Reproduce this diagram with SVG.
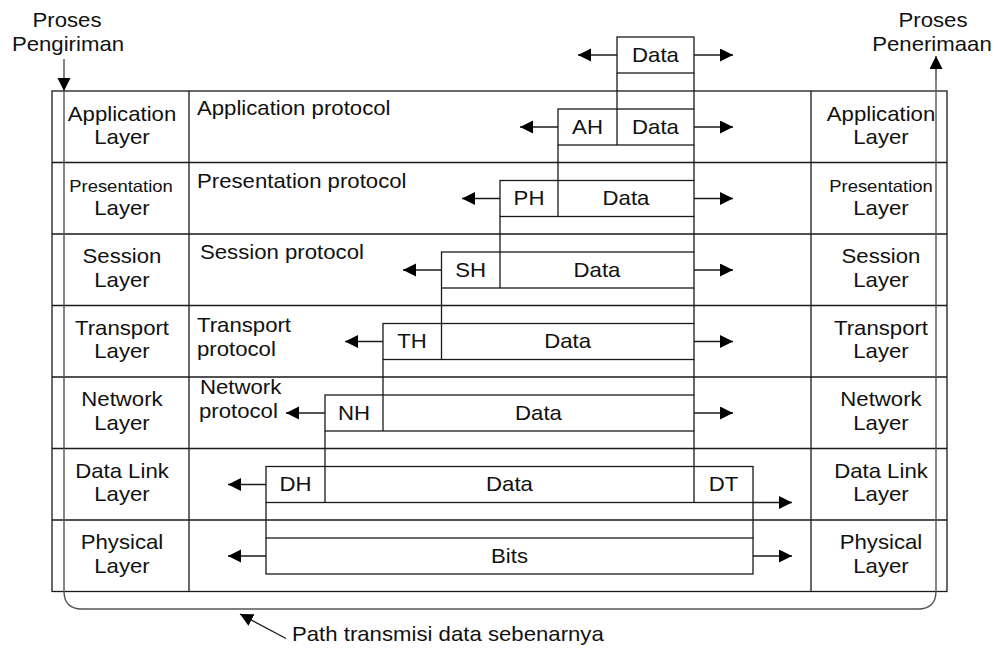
<svg xmlns="http://www.w3.org/2000/svg" width="998" height="648" viewBox="0 0 998 648">
<style>
text{font-family:"Liberation Sans",Arial,sans-serif;font-size:19.8px;fill:#111;transform-box:fill-box;transform:scaleX(1.12)}
.m{text-anchor:middle;transform-origin:center}
.l{transform-origin:left center}
.sm{font-size:16.5px}
.ln{stroke:#1a1a1a;stroke-width:1.3;fill:none}
.bx{stroke:#1a1a1a;stroke-width:1.3;fill:none}
.ar{stroke:#1a1a1a;stroke-width:1.3;fill:none;marker-end:url(#ah)}
</style>
<defs>
<marker id="ah" markerUnits="userSpaceOnUse" markerWidth="14" markerHeight="14" refX="13" refY="6.5" orient="auto">
<path d="M0,0 L13,6.5 L0,13 z" fill="#000"/>
</marker>
</defs>
<rect width="998" height="648" fill="#fff"/>

<g id="frame">
<rect class="ln" x="52" y="91" width="895" height="500.5"/>
<path class="ln" d="M189,91 V591.5 M811,91 V591.5 M52,162.5 H947 M52,234 H947 M52,305.5 H947 M52,377 H947 M52,448.5 H947 M52,520 H947"/>
</g>

<g id="sender">
<text class="m" x="67" y="27">Proses</text>
<text class="m" x="68" y="51">Pengiriman</text>
</g>
<g id="receiver">
<text class="m" x="933" y="27">Proses</text>
<text class="m" x="932" y="51">Penerimaan</text>
</g>

<g id="left-layers">
<text class="m" x="122" y="121">Application</text><text class="m" x="122" y="144">Layer</text>
<text class="m sm" x="121" y="192">Presentation</text><text class="m" x="122" y="215">Layer</text>
<text class="m" x="122" y="263">Session</text><text class="m" x="122" y="287">Layer</text>
<text class="m" x="122" y="335">Transport</text><text class="m" x="122" y="358">Layer</text>
<text class="m" x="122" y="406">Network</text><text class="m" x="122" y="430">Layer</text>
<text class="m" x="122" y="478">Data Link</text><text class="m" x="122" y="501">Layer</text>
<text class="m" x="122" y="549">Physical</text><text class="m" x="122" y="573">Layer</text>
</g>

<g id="right-layers">
<text class="m" x="881" y="121">Application</text><text class="m" x="881" y="144">Layer</text>
<text class="m sm" x="881" y="192">Presentation</text><text class="m" x="881" y="215">Layer</text>
<text class="m" x="881" y="263">Session</text><text class="m" x="881" y="287">Layer</text>
<text class="m" x="881" y="335">Transport</text><text class="m" x="881" y="358">Layer</text>
<text class="m" x="881" y="406">Network</text><text class="m" x="881" y="430">Layer</text>
<text class="m" x="881" y="478">Data Link</text><text class="m" x="881" y="501">Layer</text>
<text class="m" x="881" y="549">Physical</text><text class="m" x="881" y="573">Layer</text>
</g>

<g id="protocols">
<text class="l" x="197" y="115">Application protocol</text>
<text class="l" x="197" y="188">Presentation protocol</text>
<text class="l" x="200" y="259">Session protocol</text>
<text class="l" x="197" y="332">Transport</text>
<text class="l" x="197" y="356">protocol</text>
<text class="l" x="200" y="394">Network</text>
<text class="l" x="199" y="418">protocol</text>
</g>

<g id="pdu-data">
<rect class="bx" x="617" y="37" width="77" height="36"/>
<text class="m" x="655.5" y="62">Data</text>
</g>
<g id="pdu-ah">
<rect class="bx" x="558" y="109" width="136" height="36"/>
<path class="ln" d="M617,109 V145"/>
<text class="m" x="587.5" y="134">AH</text>
<text class="m" x="655.5" y="134">Data</text>
</g>
<g id="pdu-ph">
<rect class="bx" x="500" y="180.5" width="194" height="36"/>
<path class="ln" d="M558,180.5 V216.5"/>
<text class="m" x="529" y="205.5">PH</text>
<text class="m" x="626" y="205.5">Data</text>
</g>
<g id="pdu-sh">
<rect class="bx" x="441.5" y="252" width="252.5" height="36"/>
<path class="ln" d="M500,252 V288"/>
<text class="m" x="470.7" y="277">SH</text>
<text class="m" x="597" y="277">Data</text>
</g>
<g id="pdu-th">
<rect class="bx" x="383" y="323.5" width="311" height="36"/>
<path class="ln" d="M441.5,323.5 V359.5"/>
<text class="m" x="412" y="348.5">TH</text>
<text class="m" x="567.7" y="348.5">Data</text>
</g>
<g id="pdu-nh">
<rect class="bx" x="325" y="395" width="369" height="36"/>
<path class="ln" d="M383,395 V431"/>
<text class="m" x="354" y="420">NH</text>
<text class="m" x="538.5" y="420">Data</text>
</g>
<g id="pdu-dl">
<rect class="bx" x="266" y="466.5" width="487" height="36"/>
<path class="ln" d="M325,466.5 V502.5 M694,466.5 V502.5"/>
<text class="m" x="295.5" y="491.5">DH</text>
<text class="m" x="509.5" y="491.5">Data</text>
<text class="m" x="723.5" y="491.5">DT</text>
</g>
<g id="pdu-bits">
<rect class="bx" x="266" y="538" width="487" height="36"/>
<text class="m" x="509.5" y="563">Bits</text>
</g>

<g id="connectors">
<path class="ln" d="M617,73 V109 M694,73 V109 M558,145 V180.5 M694,145 V180.5 M500,216.5 V252 M694,216.5 V252 M441.5,288 V323.5 M694,288 V323.5 M383,359.5 V395 M694,359.5 V395 M325,431 V466.5 M694,431 V466.5 M266,502.5 V538 M753,502.5 V538"/>
<path class="ar" d="M617,55 H578"/>
<path class="ar" d="M694,55 H733"/>
<path class="ar" d="M558,127 H520"/>
<path class="ar" d="M694,127 H733"/>
<path class="ar" d="M500,198.5 H462"/>
<path class="ar" d="M694,198.5 H733"/>
<path class="ar" d="M441.5,270 H403"/>
<path class="ar" d="M694,270 H733"/>
<path class="ar" d="M383,341.5 H345"/>
<path class="ar" d="M694,341.5 H733"/>
<path class="ar" d="M325,413 H286"/>
<path class="ar" d="M694,413 H733"/>
<path class="ar" d="M266,484.5 H228"/>
<path class="ar" d="M753,502.5 H792"/>
<path class="ar" d="M266,556 H228"/>
<path class="ar" d="M753,556 H792"/>
<path d="M64,59 V91" stroke="#444" stroke-width="1.3" fill="none" marker-end="url(#ah)"/>
<path d="M64,91 V591 Q64,609 82,609 H918 Q936,609 936,591 V56" stroke="#555" stroke-width="1.4" fill="none"/>
<path d="M936,80 V56" stroke="#777" stroke-width="2" fill="none" marker-end="url(#ah)"/>
<path class="ar" d="M286,638.5 L240,614"/>
</g>
<g id="path-label">
<text class="l" x="292" y="641">Path transmisi data sebenarnya</text>
</g>
</svg>
